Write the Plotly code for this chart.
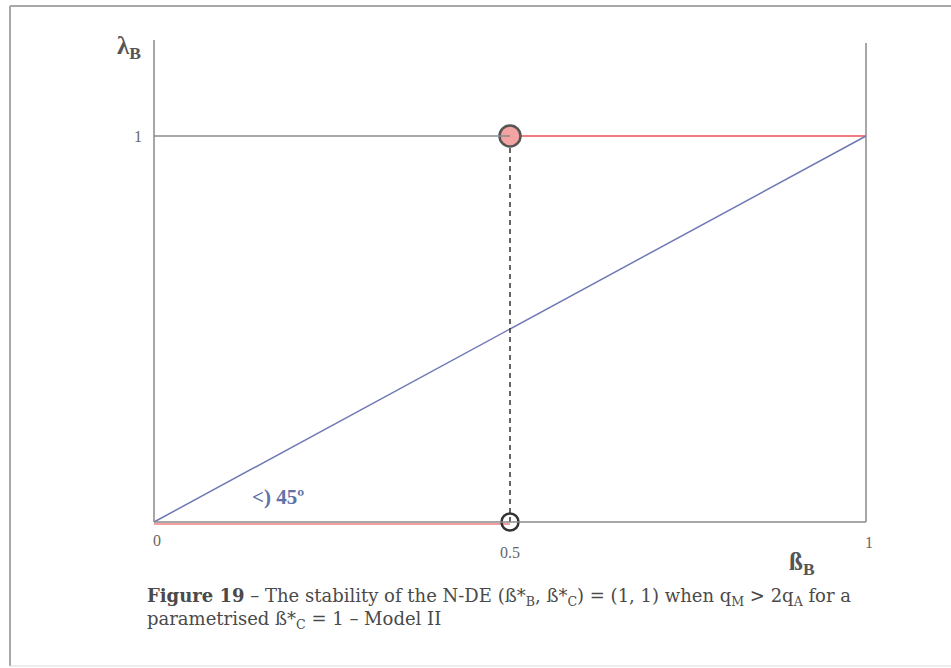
import plotly.graph_objects as go

# Phase-diagram values (beta_B on x, lambda_B on y)
x_ticks = [0, 0.5, 1]
x_tick_labels = ["0", "0.5", "1"]
y_ticks = [1]
y_tick_labels = ["1"]

diag_x = [0, 1]            # 45-degree reference line
diag_y = [0, 1]
stable_top_x = [0.5, 1]    # stable branch at lambda_B = 1
stable_top_y = [1, 1]
stable_bot_x = [0, 0.5]    # branch at lambda_B = 0
stable_bot_y = [0, 0]
dash_x = [0.5, 0.5]
dash_y = [0, 1]
filled_pt = (0.5, 1)
open_pt = (0.5, 0)

W, H = 951, 668
X0PX, X1PX = 154, 866      # pixel positions of beta_B = 0 and 1
Y0PX, Y1PX = 522, 136      # pixel positions of lambda_B = 0 and 1
sx = (X1PX - X0PX)
sy = (Y0PX - Y1PX)
xr = [-X0PX / sx, (W - X0PX) / sx]
yr = [-(H - Y0PX) / sy, Y0PX / sy]

def py(px):
    return (Y0PX - px) / sy

def pxx(px):
    return (px - X0PX) / sx

AX = "#8a8a8a"
SERIF = "Liberation Serif"
CAP_FONT = "DejaVu Serif"

fig = go.Figure()

# frame of the figure panel
fig.add_shape(type="line", xref="paper", yref="paper", x0=10 / W, x1=1.01, y0=1 - 6 / H, y1=1 - 6 / H,
              line=dict(color="#a8a8a8", width=2))
fig.add_shape(type="line", xref="paper", yref="paper", x0=10 / W, x1=10 / W, y0=1 - 6 / H, y1=1 - 666 / H,
              line=dict(color="#a8a8a8", width=2))
fig.add_shape(type="line", xref="paper", yref="paper", x0=10 / W, x1=1.01, y0=1 - 666 / H, y1=1 - 666 / H,
              line=dict(color="#dcdcdc", width=1))

# axes and box lines
fig.add_shape(type="line", x0=0, x1=0, y0=0, y1=py(40), line=dict(color=AX, width=1.5))
fig.add_shape(type="line", x0=1, x1=1, y0=0, y1=py(43), line=dict(color=AX, width=1.5))
fig.add_shape(type="line", x0=0, x1=1, y0=0, y1=0, line=dict(color=AX, width=1.5))
fig.add_shape(type="line", x0=0, x1=0.5, y0=1, y1=1, line=dict(color=AX, width=1.5))

# red branches
fig.add_trace(go.Scatter(x=stable_bot_x, y=[v - 2 / sy for v in stable_bot_y], mode="lines",
                         line=dict(color="#ee7f7f", width=1.5), hoverinfo="skip"))
fig.add_trace(go.Scatter(x=stable_top_x, y=stable_top_y, mode="lines",
                         line=dict(color="#ee7f7f", width=1.8), hoverinfo="skip"))
# diagonal
fig.add_trace(go.Scatter(x=diag_x, y=diag_y, mode="lines",
                         line=dict(color="#7079b5", width=1.5), hoverinfo="skip"))
# dashed vertical
fig.add_trace(go.Scatter(x=dash_x, y=dash_y, mode="lines",
                         line=dict(color="#333333", width=1.5, dash="5px,4px"), hoverinfo="skip"))
# equilibrium points
fig.add_trace(go.Scatter(x=[filled_pt[0]], y=[filled_pt[1]], mode="markers",
                         marker=dict(size=21, color="#f4a3a3", line=dict(color="#555555", width=2.5)),
                         hoverinfo="skip"))
fig.add_trace(go.Scatter(x=[open_pt[0]], y=[open_pt[1]], mode="markers",
                         marker=dict(size=17, color="rgba(255,255,255,0)", line=dict(color="#333333", width=2.5)),
                         hoverinfo="skip"))

ann = []
# tick labels
for v, t in zip(x_ticks, x_tick_labels):
    yoff = {0: 540, 0.5: 552, 1: 542}[v]
    xoff = {0: 3, 0.5: 0, 1: 3}[v]
    ann.append(dict(x=v + xoff / sx, y=py(yoff), text=t, showarrow=False,
                    font=dict(family=SERIF, size=16, color="#666666")))
for v, t in zip(y_ticks, y_tick_labels):
    ann.append(dict(x=pxx(138), y=v, text=t, showarrow=False,
                    font=dict(family=SERIF, size=16, color="#666666")))
# axis titles
ann.append(dict(x=pxx(129), y=py(47), text="<b>λ<sub>B</sub></b>", showarrow=False,
                font=dict(family=SERIF, size=25, color="#555555")))
ann.append(dict(x=pxx(802), y=py(563), text="<b>ß<sub>B</sub></b>", showarrow=False,
                font=dict(family=SERIF, size=25, color="#555555")))
# angle label
ann.append(dict(x=pxx(278), y=py(497), text="<b><) 45º</b>", showarrow=False,
                font=dict(family=SERIF, size=21, color="#6070a8")))
# caption
ann.append(dict(x=145 / W, y=1 - 597 / H, xref="paper", yref="paper", xanchor="left", yanchor="middle",
                text="<b>Figure 19</b> – The stability of the N-DE (ß*<sub>B</sub>, ß*<sub>C</sub>) = (1, 1) when q<sub>M</sub> > 2q<sub>A</sub> for a",
                showarrow=False, font=dict(family=CAP_FONT, size=18, color="#4a4a4a")))
ann.append(dict(x=145 / W, y=1 - 620 / H, xref="paper", yref="paper", xanchor="left", yanchor="middle",
                text="parametrised ß*<sub>C</sub> = 1 – Model II",
                showarrow=False, font=dict(family=CAP_FONT, size=18, color="#4a4a4a")))

fig.update_layout(
    width=W, height=H, margin=dict(l=0, r=0, t=0, b=0),
    paper_bgcolor="white", plot_bgcolor="white", showlegend=False,
    xaxis=dict(range=xr, visible=False, fixedrange=True),
    yaxis=dict(range=yr, visible=False, fixedrange=True),
    annotations=ann,
)

fig.write_html("out.html")
